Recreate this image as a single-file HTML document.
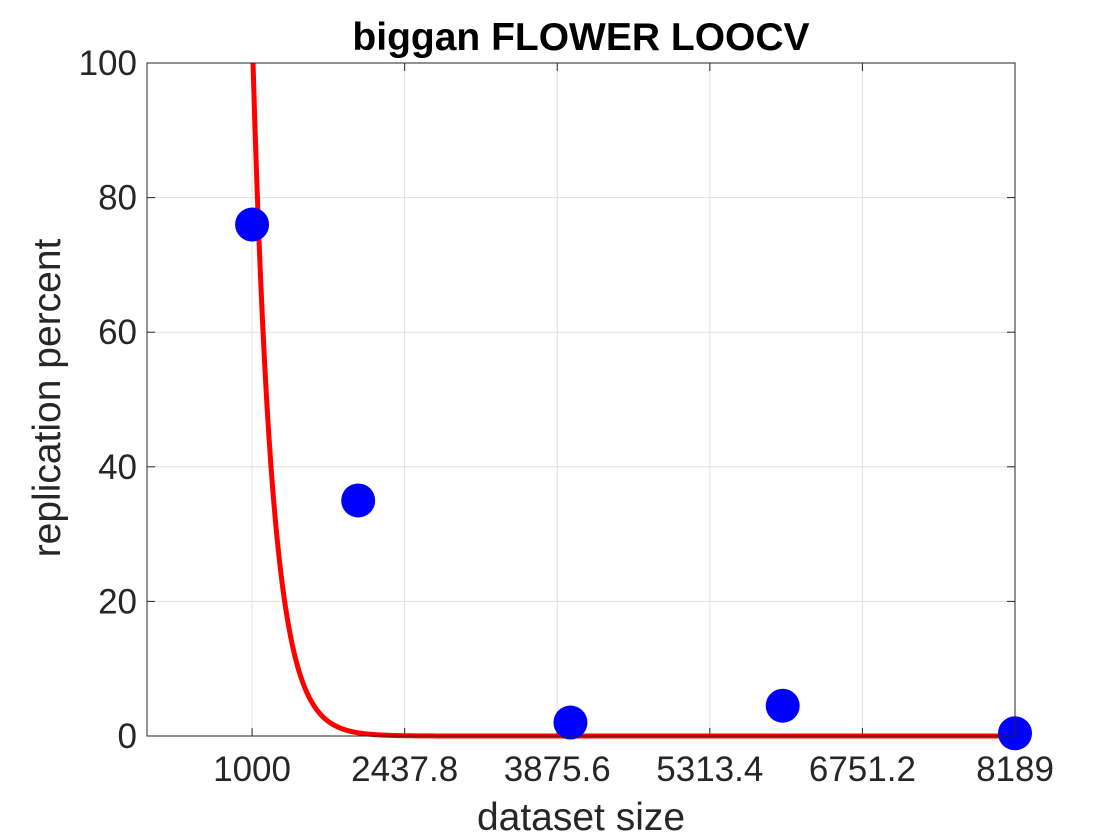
<!DOCTYPE html>
<html><head><meta charset="utf-8"><style>
html,body{margin:0;padding:0;background:#fff;}
svg{display:block;font-family:"Liberation Sans",Arial,sans-serif;}
</style></head><body>
<svg id="chart" width="1120" height="840" viewBox="0 0 1120 840">
<rect x="0" y="0" width="1120" height="840" fill="#fff"/>
<rect x="147" y="63" width="868" height="673" fill="#fff"/>
<g id="grid"></g>
<g id="ticks"></g>
<g id="series"></g>
<rect x="147" y="63" width="868" height="673" fill="none" stroke="#262626" stroke-width="1"/>
<text x="581" y="50" text-anchor="middle" font-size="39" font-weight="bold" fill="#000">biggan FLOWER LOOCV</text>
<text x="581" y="830" text-anchor="middle" font-size="39" fill="#262626">dataset size</text>
<text transform="translate(60,398) rotate(-90)" text-anchor="middle" font-size="39" fill="#262626">replication percent</text>
</svg>
<script>
const xTicks = [1000, 2437.8, 3875.6, 5313.4, 6751.2, 8189];
const xTickLabels = ["1000", "2437.8", "3875.6", "5313.4", "6751.2", "8189"];
const yTicks = [0, 20, 40, 60, 80, 100];
const yTickLabels = ["0", "20", "40", "60", "80", "100"];
const pointX = [1000, 2000, 4000, 6000, 8189];
const pointY = [76, 35, 2, 4.5, 0.4];
const fitA = [23250];
const fitB = [0.0054];

const X0 = 10, X1 = 8189, Y0 = 0, Y1 = 100;
const L = 147, R = 1015, T = 63, B = 736;
function sx(v){ return L + (v - X0) / (X1 - X0) * (R - L); }
function sy(v){ return B - (v - Y0) / (Y1 - Y0) * (B - T); }
const NS = "http://www.w3.org/2000/svg";
function mk(tag, attrs, parent){
  const e = document.createElementNS(NS, tag);
  for (const k in attrs) e.setAttribute(k, attrs[k]);
  parent.appendChild(e); return e;
}
const grid = document.getElementById('grid');
const ticks = document.getElementById('ticks');
const series = document.getElementById('series');

xTicks.forEach((t, i) => {
  const x = sx(t);
  const g = mk('line', {x1:x, x2:x, y1:T, y2:B, stroke:'#dfdfdf', 'stroke-width':1}, grid);
  
  
  mk('line', {x1:x, x2:x, y1:B, y2:B-8, stroke:'#262626', 'stroke-width':1}, ticks);
  mk('line', {x1:x, x2:x, y1:T, y2:T+8, stroke:'#262626', 'stroke-width':1}, ticks);
  const lb = mk('text', {x:x, y:B+45, 'text-anchor':'middle', 'font-size':35, fill:'#262626'}, ticks);
  lb.textContent = xTickLabels[i];
  
  
});
yTicks.forEach((t, i) => {
  const y = sy(t);
  const g = mk('line', {x1:L, x2:R, y1:y, y2:y, stroke:'#dfdfdf', 'stroke-width':1}, grid);
  
  
  mk('line', {x1:L, x2:L+8, y1:y, y2:y, stroke:'#262626', 'stroke-width':1}, ticks);
  mk('line', {x1:R, x2:R-8, y1:y, y2:y, stroke:'#262626', 'stroke-width':1}, ticks);
  const lb = mk('text', {x:L-10, y:y+12, 'text-anchor':'end', 'font-size':35, fill:'#262626'}, ticks);
  lb.textContent = yTickLabels[i];
  
  
});

let d = '';
let started = false;
for (let v = X0; v <= X1; v += 4) {
  const f = fitA[0] * Math.exp(-fitB[0] * v);
  if (f > Y1) continue;
  if (!started) {
    const vTop = Math.log(fitA[0] / Y1) / fitB[0];
    d += 'M' + sx(vTop).toFixed(2) + ',' + sy(Y1).toFixed(2) + ' ';
    started = true;
  }
  d += 'L' + sx(v).toFixed(2) + ',' + sy(f).toFixed(2) + ' ';
}
const curve = mk('path', {d:d, fill:'none', stroke:'#ff0000', 'stroke-width':5}, series);



pointX.forEach((v, i) => {
  const c = mk('circle', {cx:sx(v), cy:sy(pointY[i]), r:17, fill:'#0000ff'}, series);
  
  
});
</script>
</body></html>
